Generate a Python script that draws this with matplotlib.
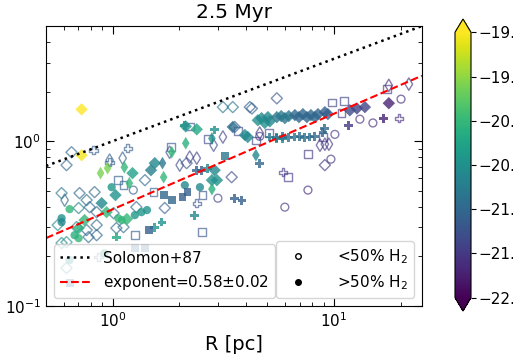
import numpy as np
import matplotlib
matplotlib.use("Agg")
import matplotlib.pyplot as plt
from matplotlib.lines import Line2D
from matplotlib.colors import Normalize
from matplotlib.cm import ScalarMappable

# ---------------- data ----------------
# filled markers (>50% H2)
fD_R = [0.724, 0.724, 1.23, 1.49, 1.55, 1.03, 0.892, 1.16, 0.939, 0.702, 0.747, 2.14, 2.40, 3.49, 3.96, 4.08,
        2.89, 2.81, 2.96, 4.53, 4.71, 4.87, 5.03, 5.13, 5.52, 5.78, 6.00, 6.25, 6.66, 6.95, 7.24, 7.55, 7.87,
        8.20, 8.47, 9.10, 9.39, 11.8, 12.7, 13.8, 17.7]
fD_sig = [1.56, 0.822, 0.640, 0.667, 0.736, 0.471, 0.421, 0.337, 0.371, 0.297, 0.332, 1.23, 1.18, 1.22, 1.09, 1.06,
          0.667, 0.580, 0.580, 1.34, 1.38, 1.29, 1.40, 1.32, 1.40, 1.42, 1.38, 1.42, 1.44, 1.40, 1.46, 1.40, 1.44,
          1.40, 1.46, 1.50, 1.46, 1.54, 1.58, 1.61, 1.70]
fD_c = [-19.0, -19.05, -20.3, -20.7, -20.6, -20.5, -20.6, -20.0, -20.0, -20.1, -20.0, -20.4, -20.2, -20.9, -20.6, -20.6,
        -20.6, -20.5, -20.5, -20.5, -20.6, -20.5, -20.6, -20.6, -20.8, -20.8, -20.8, -20.8, -21.0, -21.0, -21.0, -21.0, -21.0,
        -21.0, -21.0, -21.1, -21.1, -21.3, -21.4, -21.4, -21.7]

fP_R = [2.12, 2.89, 1.67, 1.55, 1.04, 2.40, 2.53, 2.69, 3.56, 3.84, 2.35, 4.62, 9.10, 8.92, 11.6, 16.8, 5.52, 5.88,
        5.13, 5.52, 5.88, 6.25, 6.66, 7.02, 7.39, 7.79, 8.20]
fP_sig = [1.25, 1.17, 0.323, 0.301, 0.262, 0.667, 0.667, 0.686, 0.451, 0.439, 0.356, 0.736, 1.20, 1.13, 1.25, 1.38, 1.04, 1.04,
          1.06, 1.05, 1.07, 1.05, 1.06, 1.07, 1.05, 1.06, 1.07]
fP_c = [-20.5, -20.5, -20.5, -20.4, -20.2, -21.1, -21.1, -20.6, -21.1, -21.1, -20.6, -21.0, -21.0, -21.0, -21.5, -21.7, -20.6, -20.6,
        -20.8, -20.8, -20.8, -20.9, -20.9, -20.9, -20.9, -20.9, -21.0]

fo_R = [0.990, 0.639, 0.588, 1.06, 1.10, 1.26, 1.35, 1.43, 0.588, 0.702, 0.673, 0.920, 0.639, 2.12, 2.48]
fo_sig = [0.526, 0.387, 0.341, 0.341, 0.332, 0.356, 0.371, 0.382, 0.323, 0.258, 0.269, 0.209, 0.190, 0.541, 0.526]
fo_c = [-20.4, -20.0, -20.5, -20.0, -20.0, -20.4, -20.4, -20.5, -20.6, -20.0, -20.1, -20.3, -20.5, -20.6, -20.6]

fs_R = [1.70, 1.85, 1.46, 1.26, 1.40, 2.18, 2.07, 3.21, 0.639]
fs_sig = [0.471, 0.439, 0.289, 0.225, 0.225, 0.491, 0.458, 0.810, 0.138]
fs_c = [-21.0, -21.0, -21.1, -21.0, -21.0, -21.1, -21.1, -20.8, -21.0]

fd_R = [0.882, 0.949, 1.13, 1.68, 1.70, 1.85, 1.19, 2.14, 2.81, 4.44, 2.81]
fd_sig = [0.640, 0.686, 0.695, 0.736, 0.605, 0.857, 0.556, 0.972, 0.512, 0.822, 1.04]
fd_c = [-19.6, -19.6, -20.0, -20.8, -20.0, -20.0, -20.0, -20.1, -20.1, -20.6, -20.5]

# open markers (<50% H2)
oD_R = [0.652, 0.619, 1.40, 0.588, 0.709, 0.829, 0.763, 0.702, 0.787, 0.847, 1.01, 1.28, 1.72, 0.565, 0.687,
        0.763, 0.847, 0.588, 0.619, 0.778, 0.847, 1.04, 1.12, 3.15, 3.49, 4.17, 4.26, 5.52, 2.16, 3.45, 3.56,
        9.10, 0.619]
oD_sig = [0.857, 0.716, 0.580, 0.484, 0.484, 0.491, 0.439, 0.393, 0.398, 0.371, 0.366, 0.398, 0.393, 0.310, 0.301,
          0.289, 0.310, 0.241, 0.244, 0.262, 0.269, 0.297, 0.301, 1.61, 1.61, 1.61, 1.58, 1.82, 0.736, 0.605, 1.22,
          0.716, 0.170]
oD_c = [-21.0, -21.0, -21.0, -20.8, -21.0, -21.0, -20.9, -20.7, -21.0, -21.0, -21.0, -21.0, -21.1, -20.6, -20.7,
        -21.0, -21.0, -20.6, -20.5, -21.0, -21.0, -21.0, -21.0, -20.8, -20.8, -21.1, -21.1, -21.2, -21.2, -21.3, -21.2,
        -21.5, -20.8]

od_R = [0.969, 1.11, 0.607, 1.81, 2.23, 2.40, 2.01, 2.86, 3.15, 4.62, 8.65, 9.10, 9.49, 17.7, 21.8]
od_sig = [0.767, 0.789, 0.439, 0.857, 0.800, 0.789, 0.716, 0.946, 1.06, 1.12, 0.946, 0.959, 0.959, 2.18, 2.22]
od_c = [-21.1, -21.1, -21.0, -21.3, -21.4, -21.4, -21.3, -21.3, -21.4, -21.5, -21.5, -21.5, -21.5, -21.6, -21.6]

os_R = [1.06, 1.12, 1.53, 1.26, 2.23, 2.69, 1.83, 3.68, 5.08, 4.44, 2.55, 2.53, 6.19, 7.63, 8.92, 9.79, 11.1, 10.8, 17.4]
os_sig = [0.580, 0.541, 0.491, 0.269, 1.23, 1.03, 0.920, 1.15, 1.12, 1.01, 0.471, 0.281, 0.605, 0.834, 1.06, 1.72, 1.75, 1.48, 2.07]
os_c = [-21.1, -21.1, -21.1, -21.1, -21.3, -21.3, -21.2, -21.3, -21.4, -21.4, -21.2, -21.2, -21.5, -21.5, -21.5, -21.4, -21.4, -21.5, -21.5]

oo_R = [1.24, 2.99, 4.62, 6.00, 7.63, 9.69, 10.1, 13.1, 15.0, 20.1]
oo_sig = [0.505, 0.451, 1.07, 0.398, 0.505, 0.778, 1.10, 1.36, 1.29, 1.80]
oo_c = [-21.1, -21.4, -21.5, -21.5, -21.6, -21.5, -21.5, -21.6, -21.6, -21.6]

oP_R = [0.820, 1.17, 0.969, 0.864, 2.40, 5.88, 19.7]
oP_sig = [0.882, 0.907, 0.746, 0.198, 0.421, 0.649, 1.38]
oP_c = [-21.1, -21.1, -21.1, -21.0, -21.2, -21.5, -21.6]

# fitted relations
solomon_norm, solomon_exp = 1.0, 0.5
fit_norm, fit_exp, fit_err = 0.386, 0.58, 0.02

xlim = (0.5, 25)
ylim = (0.1, 5)
cmin, cmax = -22.0, -19.0

# ---------------- figure ----------------
W, H = 513, 357
fig = plt.figure(figsize=(W / 100, H / 100), dpi=100)
ax = fig.add_axes([46 / W, 1 - 306 / H, 376 / W, 280 / H])
cax = fig.add_axes([455 / W, 1 - 311 / H, 16 / W, 292 / H])

cmap = plt.get_cmap("viridis")
norm = Normalize(vmin=cmin, vmax=cmax)

filled = [(fD_R, fD_sig, fD_c, "D", 40), (fP_R, fP_sig, fP_c, "P", 40), (fo_R, fo_sig, fo_c, "o", 35),
          (fs_R, fs_sig, fs_c, "s", 32), (fd_R, fd_sig, fd_c, "d", 42)]
opened = [(oD_R, oD_sig, oD_c, "D", 32), (oP_R, oP_sig, oP_c, "P", 36), (oo_R, oo_sig, oo_c, "o", 32),
          (os_R, os_sig, os_c, "s", 30), (od_R, od_sig, od_c, "d", 40)]

for R, s, c, m, size in opened:
    ax.scatter(R, s, marker=m, s=size, facecolors="none", edgecolors=cmap(norm(np.array(c))),
               linewidths=1.0, alpha=0.65)
for R, s, c, m, size in filled:
    ax.scatter(R, s, c=c, cmap=cmap, norm=norm, marker=m, s=size, alpha=0.8, linewidths=0)

xx = np.logspace(np.log10(xlim[0]), np.log10(xlim[1]), 100)
l1, = ax.plot(xx, solomon_norm * xx ** solomon_exp, ls=":", color="black", lw=1.8)
l2, = ax.plot(xx, fit_norm * xx ** fit_exp, ls="--", color="red", lw=1.5)

ax.set_xscale("log")
ax.set_yscale("log")
ax.set_xlim(*xlim)
ax.set_ylim(*ylim)
ax.tick_params(which="both", direction="in", top=True, right=True, labelsize=11)
ax.tick_params(which="major", length=6)
ax.tick_params(which="minor", length=3)
ax.set_title("2.5 Myr", fontsize=14.5)
ax.set_xlabel("R [pc]", fontsize=14)

leg1 = ax.legend([l1, l2], ["Solomon+87", f"exponent={fit_exp:.2f}$\\pm${fit_err:.2f}"],
                 loc="lower left", fontsize=11)
ax.add_artist(leg1)
h_open = Line2D([], [], ls="none", marker="o", markersize=4, markerfacecolor="none", markeredgecolor="black")
h_fill = Line2D([], [], ls="none", marker="o", markersize=4, color="black")
ax.legend([h_open, h_fill], ["<50% H$_2$", ">50% H$_2$"], loc="lower right", fontsize=11,
          handletextpad=1.6)

sm = ScalarMappable(norm=norm, cmap=cmap)
cb = fig.colorbar(sm, cax=cax, extend="both")
cb.ax.tick_params(labelsize=11, pad=2)

fig.savefig("out.png", dpi=100)
